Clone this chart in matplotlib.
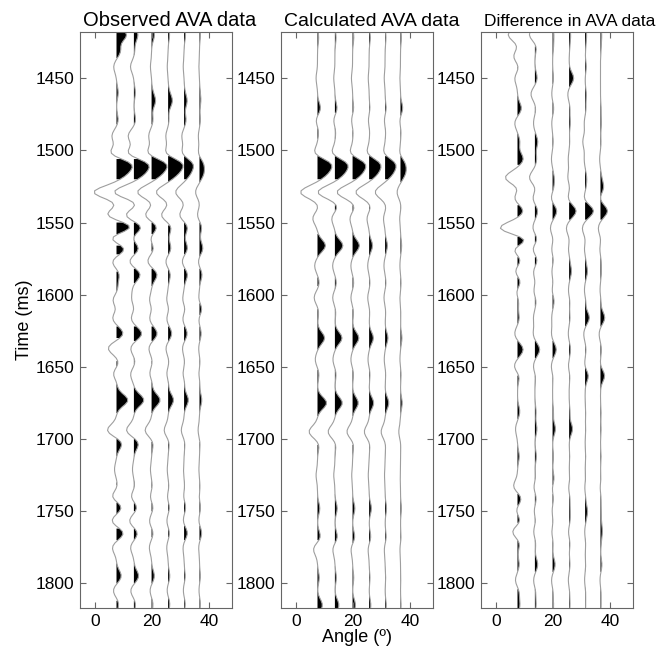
import numpy as np
import matplotlib.pyplot as plt

plt.rcParams['font.family'] = ['Liberation Sans', 'DejaVu Sans']

# trace positions (angle, deg)
angles = [7.5, 13.6, 19.8, 25.6, 31.2, 36.6]

# event times (ms) and amplitudes per trace (in angle units) for each panel
obs_times = [1420, 1431, 1442, 1460, 1466, 1479, 1490, 1503, 1509, 1516,
             1529, 1537, 1545, 1553, 1561, 1568, 1577, 1586, 1596, 1604,
             1610, 1616, 1627, 1637, 1647, 1655, 1660, 1673, 1694, 1703,
             1721, 1734, 1740, 1747, 1757, 1765, 1775, 1795, 1805, 1814]
obs_amps = [
    [3.5, 1.4, 1.0, 0.5, 0.5, 0.3],
    [1.4, 0.3, 0.0, 0.0, 0.0, 0.0],
    [-1.0, -1.2, -0.4, -0.3, -0.3, -0.2],
    [0.6, 0.5, 0.3, 0.3, 0.2, 0.2],
    [0.0, 0.0, 1.3, 1.4, 1.0, 0.4],
    [0.6, 0.6, 0.5, 0.3, 0.7, 0.3],
    [-1.6, -2.0, -1.0, -0.8, -0.8, -0.4],
    [-3.0, -3.0, -2.2, -1.6, -1.2, -0.6],
    [5.2, 5.0, 5.0, 4.8, 3.0, 1.3],
    [3.0, 3.0, 3.0, 2.8, 1.8, 1.3],
    [-8.0, -7.0, -5.0, -4.2, -3.0, -1.4],
    [0.5, 1.5, 0.6, 0.4, 0.3, 0.2],
    [-3.7, -3.2, -2.4, -2.5, -1.7, -0.8],
    [5.5, 2.8, 2.0, 1.2, 1.3, 0.8],
    [-2.8, -0.8, -0.6, 0.0, 0.0, 0.0],
    [3.2, 1.8, 0.8, 1.0, 1.2, 1.2],
    [-1.6, -1.7, -1.5, -0.9, -0.8, -0.5],
    [1.0, 2.3, 2.0, 0.8, 1.2, 0.9],
    [0.5, -0.5, 0.0, 0.0, 0.0, 0.0],
    [-1.4, -0.8, -0.8, -0.6, -0.6, -0.4],
    [0.5, 0.5, 0.4, 0.5, 0.6, 1.0],
    [-1.5, -1.1, -0.8, -0.6, -0.6, -0.4],
    [2.4, 2.8, 2.0, 1.3, 1.1, 0.6],
    [-3.0, -1.2, -1.0, -0.8, -0.6, -0.3],
    [0.8, 0.5, 0.3, 0.3, 0.2, 0.2],
    [-1.3, -1.2, -0.8, -0.6, -0.5, -0.3],
    [0.4, 0.0, 0.4, 0.3, 0.3, 0.2],
    [4.0, 3.5, 3.0, 1.9, 1.5, 0.8],
    [-3.3, -2.7, -2.3, -1.4, -1.0, -0.5],
    [2.0, 1.7, 0.6, 0.4, 0.3, 0.2],
    [-0.7, -0.5, -0.4, -0.3, -0.2, -0.2],
    [0.5, 0.4, 0.3, 0.3, 0.2, 0.2],
    [-1.9, -1.2, -0.6, -0.4, -0.3, -0.2],
    [2.0, 1.2, 0.6, 0.5, 0.6, 0.4],
    [-1.9, -1.7, -0.8, -0.5, -0.4, -0.3],
    [2.6, 1.4, 0.6, 0.5, 1.2, 0.8],
    [-1.5, -1.2, -0.8, -0.5, -0.4, -0.3],
    [1.7, 1.7, 1.0, 0.6, 0.4, 0.3],
    [-1.2, -1.2, -0.6, -0.4, -0.3, -0.2],
    [0.8, 0.6, 0.5, 0.6, 0.4, 0.3],
]

calc_times = [1422, 1450, 1471, 1479, 1487, 1503, 1509, 1516, 1529, 1539,
              1547, 1566, 1580, 1592, 1602, 1612, 1630, 1645, 1655, 1675,
              1695, 1704, 1725, 1748, 1768, 1776, 1796, 1815]
calc_amps = [
    [0.4, 0.4, 0.4, 0.4, 0.3, 0.3],
    [-0.5, -0.4, -0.4, -0.3, -0.3, -0.2],
    [1.1, 0.8, 0.4, 0.3, 0.4, 0.8],
    [-0.6, -0.5, -0.4, -0.3, -0.3, -0.3],
    [0.4, 0.3, 0.2, 0.2, 0.2, 0.2],
    [-1.8, -1.7, -1.5, -1.3, -1.0, -0.5],
    [4.6, 4.2, 4.2, 3.7, 3.4, 1.5],
    [2.8, 2.6, 2.6, 2.4, 2.2, 1.5],
    [-6.0, -6.0, -5.5, -4.7, -3.5, -1.2],
    [0.5, 1.0, 0.8, 0.6, 0.4, 0.2],
    [-1.7, -1.2, -1.0, -0.8, -0.6, -0.3],
    [2.8, 2.8, 2.4, 1.2, 0.8, 0.4],
    [-1.0, -0.8, -0.6, -0.5, -0.4, -0.2],
    [0.6, 0.5, 0.4, 0.3, 0.3, 0.2],
    [-1.2, -0.8, -0.6, -0.5, -0.4, -0.2],
    [0.4, 0.3, 0.3, 0.2, 0.2, 0.1],
    [2.5, 2.5, 2.2, 1.5, 1.0, 0.5],
    [-0.8, -0.7, -0.6, -0.4, -0.3, -0.2],
    [0.5, 0.4, 0.3, 0.3, 0.2, 0.2],
    [3.2, 2.6, 2.0, 1.6, 1.3, 0.6],
    [-3.0, -2.4, -2.0, -1.7, -1.4, -0.6],
    [0.6, 0.4, 0.4, 0.3, 0.2, 0.1],
    [-0.5, -0.4, -0.3, -0.3, -0.2, -0.1],
    [0.8, 0.8, 0.8, 0.8, 0.5, 0.3],
    [1.1, 0.9, 0.8, 0.6, 0.4, 0.2],
    [-1.5, -0.8, -0.6, -0.4, -0.3, -0.2],
    [0.6, 0.5, 0.4, 0.3, 0.2, 0.1],
    [1.7, 1.4, 1.0, 0.6, 0.4, 0.2],
]

diff_times = [1420, 1428, 1435, 1442, 1450, 1461, 1471, 1481, 1494, 1506,
              1519, 1526, 1533, 1542, 1554, 1562, 1568, 1576, 1584, 1591,
              1598, 1604, 1616, 1627, 1638, 1650, 1656, 1681, 1693, 1712,
              1728, 1733, 1741, 1750, 1757, 1764, 1772, 1787, 1798, 1806,
              1815]
diff_amps = [
    [-3.3, -2.0, 0.4, 0.5, 0.5, 0.4],
    [0.4, 0.6, 0.3, 0.2, 0.2, 0.2],
    [-1.5, 0.0, 0.0, 0.0, 0.0, 0.0],
    [0.6, 0.0, 0.0, 0.0, 0.4, 0.0],
    [-1.0, 0.8, 0.3, 1.6, 0.0, 0.0],
    [0.0, -1.4, -0.3, -0.5, 0.4, 0.0],
    [1.4, 0.3, 0.4, 0.3, 0.3, 0.2],
    [-1.0, -0.5, -0.3, 0.4, -0.3, 0.3],
    [0.8, 1.0, 0.2, 0.2, -0.8, 0.2],
    [2.0, 0.6, -0.4, -0.3, -0.3, -0.3],
    [-4.4, -2.0, 0.5, -0.5, 0.5, 0.3],
    [0.7, 0.5, 0.4, 0.3, 0.3, 1.1],
    [-1.2, -0.8, -0.6, -0.5, -0.5, -0.4],
    [2.0, 1.0, 1.5, 2.5, 3.0, 2.5],
    [-6.5, -0.8, -0.8, -1.0, -1.0, -0.8],
    [3.7, 1.0, 0.3, 0.2, 0.2, 0.2],
    [-2.0, -1.0, -0.4, -0.3, -0.3, -0.3],
    [1.2, 0.9, 0.3, 0.2, 0.2, 0.2],
    [-1.0, -0.6, -0.3, 0.8, 0.8, 0.3],
    [1.2, 0.2, 0.2, 0.0, 0.0, 0.0],
    [-0.6, -0.5, -0.3, -0.3, -0.3, -0.2],
    [0.5, 0.5, 0.6, 0.3, 0.3, 0.2],
    [0.6, -0.5, -0.3, 0.3, 1.5, 1.5],
    [-1.0, -0.6, -0.4, -0.3, -0.5, -0.5],
    [2.0, 1.7, 1.3, 0.5, 0.3, 0.3],
    [-1.3, -0.6, -0.5, -0.3, -0.3, -0.2],
    [0.8, 0.3, 0.2, 0.3, 1.2, 1.5],
    [0.8, 0.4, 0.3, 0.3, 0.2, 0.2],
    [-0.7, 0.7, 1.0, 1.2, 0.2, 0.2],
    [0.6, 0.5, 0.3, 0.2, 0.2, 0.2],
    [0.0, 0.3, 0.6, 0.3, 0.2, 0.2],
    [-1.5, -0.5, -0.3, -0.3, -0.2, -0.2],
    [1.4, 0.5, 0.3, 0.3, 0.2, 0.2],
    [-0.6, -0.3, -0.2, 0.3, 0.8, 0.2],
    [1.2, 0.3, 0.2, 0.3, 0.2, 0.2],
    [-2.0, -0.5, -0.3, -0.3, -0.2, 0.6],
    [0.8, 0.3, 0.2, 0.3, 0.2, 0.2],
    [0.6, 1.0, 0.9, 0.3, 0.2, 0.5],
    [-0.8, -0.5, -0.4, -0.3, -0.2, -0.2],
    [0.6, 0.3, 0.2, 0.2, 0.2, 0.2],
    [0.8, 0.4, 0.3, 0.3, 0.2, 0.2],
]

titles = ['Observed AVA data', 'Calculated AVA data', 'Difference in AVA data']
title_sizes = [14.5, 14.0, 12.5]

t = np.arange(1414, 1822, 2.0)
sigma = 4.0


def wiggle(ax, times, amps):
    amps = np.array(amps)
    for j, a0 in enumerate(angles):
        tr = np.zeros_like(t)
        for tc, a in zip(times, amps[:, j]):
            tr += a * np.exp(-0.5 * ((t - tc) / sigma) ** 2)
        ax.plot(a0 + tr, t, color='0.62', lw=0.8)
        ax.fill_betweenx(t, a0, a0 + tr, where=tr > 0, color='k', lw=0)


fig = plt.figure(figsize=(6.67, 6.48), dpi=100)
lefts = [80, 281, 481]
panels = [(obs_times, obs_amps), (calc_times, calc_amps), (diff_times, diff_amps)]
for i in range(3):
    ax = fig.add_axes([lefts[i] / 667, 40 / 648, 152 / 667, 576 / 648])
    wiggle(ax, *panels[i])
    ax.set_xlim(-5.3, 48)
    ax.set_ylim(1817, 1418)
    ax.set_xticks([0, 20, 40])
    ax.set_yticks(np.arange(1450, 1801, 50))
    ax.tick_params(direction='in', top=True, right=True, length=4,
                   labelsize=12.5, color='0.4', pad=4)
    for s in ax.spines.values():
        s.set_color('0.4')
    ax.text(0.02, 1.011, titles[i], transform=ax.transAxes,
            fontsize=title_sizes[i], ha='left', va='baseline')
    if i == 0:
        ax.set_ylabel('Time (ms)', fontsize=13, labelpad=2)
    if i == 1:
        ax.set_xlabel('Angle (º)', fontsize=13, labelpad=0)

fig.savefig('out.png', dpi=100)
